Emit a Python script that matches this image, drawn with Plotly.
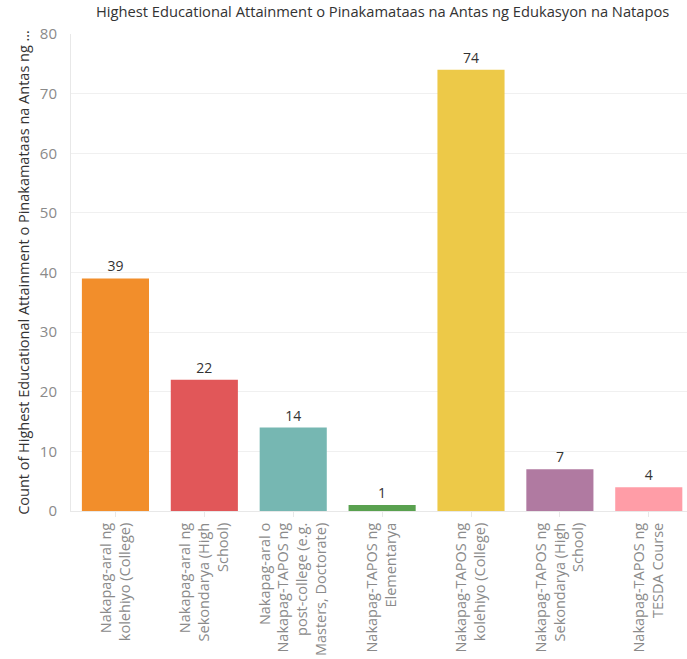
import plotly.graph_objects as go

categories = [
    "Nakapag-aral ng<br>kolehiyo (College)",
    "Nakapag-aral ng<br>Sekondarya (High<br>School)",
    "Nakapag-aral o<br>Nakapag-TAPOS ng<br>post-college (e.g.<br>Masters, Doctorate)",
    "Nakapag-TAPOS ng<br>Elementarya",
    "Nakapag-TAPOS ng<br>kolehiyo (College)",
    "Nakapag-TAPOS ng<br>Sekondarya (High<br>School)",
    "Nakapag-TAPOS ng<br>TESDA Course",
]
counts = [39, 22, 14, 1, 74, 7, 4]
colors = ["#F28E2B", "#E15759", "#76B7B2", "#59A14F", "#EDC948", "#B07AA1", "#FF9DA7"]
y_ticks = [0, 10, 20, 30, 40, 50, 60, 70, 80]

font_family = "Open Sans, Noto Sans, sans-serif"

fig = go.Figure(
    go.Bar(
        x=list(range(len(categories))),
        y=counts,
        marker=dict(color=colors, line=dict(width=0)),
        width=0.755,
        text=[str(v) for v in counts],
        textposition="outside",
        textfont=dict(size=14, color="#333333", family=font_family),
        cliponaxis=False,
    )
)

fig.update_layout(
    width=687,
    height=659,
    margin=dict(l=71, r=0, t=34, b=148),
    paper_bgcolor="white",
    plot_bgcolor="white",
    showlegend=False,
    font=dict(family=font_family),
    title=dict(
        text="Highest Educational Attainment o Pinakamataas na Antas ng Edukasyon na Natapos",
        x=0.557,
        xanchor="center",
        y=0.982,
        yanchor="middle",
        font=dict(size=14.7, color="#333333", family=font_family),
    ),
    bargap=0.245,
)

fig.update_xaxes(
    range=[-0.5, 6.43],
    tickmode="array",
    tickvals=list(range(len(categories))),
    ticktext=categories,
    tickangle=-90,
    tickfont=dict(size=14.5, color="#8a8a8a", family=font_family),
    tickson="boundaries",
    ticks="outside",
    ticklen=5,
    tickcolor="#e8e8e8",
    showgrid=False,
    showline=True,
    linecolor="#e8e8e8",
    linewidth=1,
    zeroline=False,
)

fig.update_yaxes(
    range=[0, 80],
    tickmode="array",
    tickvals=y_ticks,
    tickfont=dict(size=15, color="#8a8a8a", family=font_family),
    ticklabelstandoff=10,
    showgrid=True,
    gridcolor="#f0f0f0",
    gridwidth=1,
    showline=True,
    linecolor="#e8e8e8",
    zeroline=False,
    ticks="",
    title=dict(
        text="Count of Highest Educational Attainment o Pinakamataas na Antas ng …",
        font=dict(size=14.5, color="#333333", family=font_family),
        standoff=6,
    ),
)

fig.write_html("out.html")
